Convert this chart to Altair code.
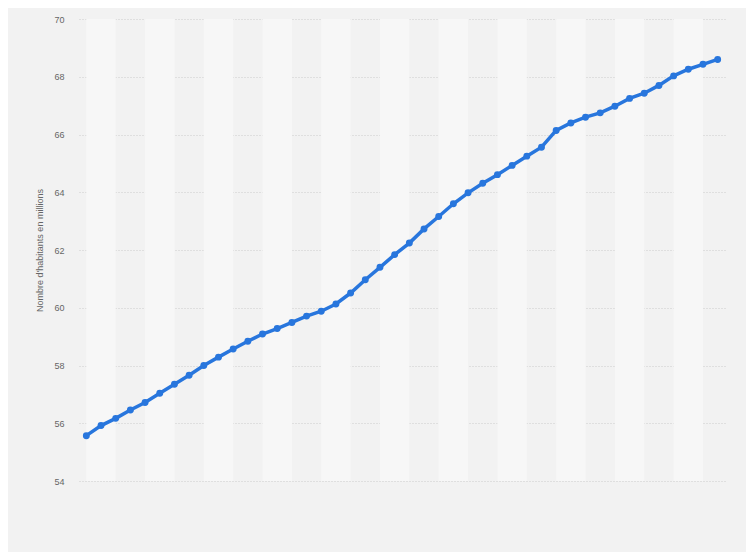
import altair as alt
import pandas as pd

years = list(range(1982, 2026))
population = [55.57, 55.92, 56.17, 56.46, 56.72, 57.04, 57.35, 57.66, 58.00, 58.29,
              58.57, 58.84, 59.09, 59.28, 59.49, 59.71, 59.88, 60.13, 60.51, 60.97,
              61.40, 61.84, 62.24, 62.73, 63.16, 63.60, 63.98, 64.31, 64.61, 64.93,
              65.25, 65.56, 66.14, 66.40, 66.60, 66.75, 66.98, 67.25, 67.43, 67.70,
              68.03, 68.26, 68.43, 68.60]
band_start = list(range(1982, 2023, 4))
band_end = [s + 2 for s in band_start]
y_ticks = [54, 56, 58, 60, 62, 64, 66, 68, 70]

df = pd.DataFrame({"year": years, "pop": population})
bands = pd.DataFrame({"start": band_start, "end": band_end})

xscale = alt.Scale(domain=[1981.5, 2025.5], nice=False, zero=False)
yscale = alt.Scale(domain=[54, 70], nice=False, zero=False)

stripes = alt.Chart(bands).mark_rect(color="#f7f7f7").encode(
    x=alt.X("start:Q", scale=xscale, axis=None),
    x2="end:Q",
    y=alt.value(0),
    y2=alt.value(462),
)

base = alt.Chart(df).encode(
    x=alt.X("year:Q", scale=xscale, axis=None),
    y=alt.Y("pop:Q", scale=yscale,
            axis=alt.Axis(values=y_ticks, title="Nombre d'habitants en millions",
                          domain=False, ticks=False, labelPadding=15,
                          labelColor="#666666", labelFontSize=9, labelFont="Arial",
                          titleColor="#666666", titleFontSize=9, titleFont="Arial",
                          titleFontWeight="normal", titlePadding=9, zindex=0,
                          grid=True, gridColor="#cccccc", gridDash=[1, 2], gridWidth=1)),
)

line = base.mark_line(color="#2876dd", strokeWidth=3.5)
points = base.mark_circle(color="#2876dd", size=48, opacity=1)

chart = alt.layer(stripes, line, points).properties(
    width=646, height=462,
    background="#f2f2f2",
    autosize=alt.AutoSizeParams(type="none"),
    padding={"left": 71, "top": 11, "right": 21, "bottom": 71},
).configure_view(stroke=None).configure_axis(gridOpacity=1)

chart.save("out.html", embed_options={"renderer": "svg", "actions": False})
